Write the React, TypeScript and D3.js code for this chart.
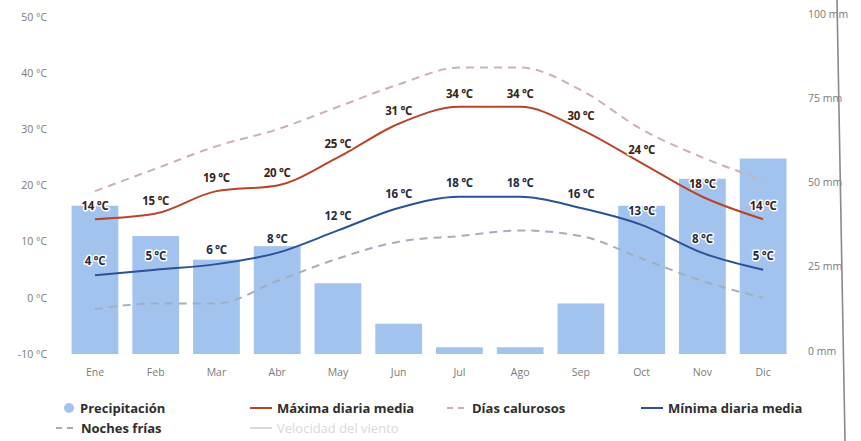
import React from "react";
import * as d3 from "d3";

// Monthly climate data
const months = ["Ene", "Feb", "Mar", "Abr", "May", "Jun", "Jul", "Ago", "Sep", "Oct", "Nov", "Dic"];
const precipitation = [44, 35, 28, 32, 21, 9, 2, 2, 15, 44, 52, 58]; // mm
const maxDaily = [14, 15, 19, 20, 25, 31, 34, 34, 30, 24, 18, 14]; // °C
const minDaily = [4, 5, 6, 8, 12, 16, 18, 18, 16, 13, 8, 5]; // °C
const hotDays = [19, 23, 27, 30, 34, 38, 41, 41, 37, 30, 25, 21]; // °C
const coldNights = [-2, -1, -1, 3, 7, 10, 11, 12, 11, 7, 3, 0]; // °C

const tempTicks = [-10, 0, 10, 20, 30, 40, 50];
const precTicks = [0, 25, 50, 75, 100];

const W = 861;
const H = 441;
const FONT = "'Open Sans', 'DejaVu Sans', sans-serif";

const C = {
  bar: "#a3c3ef",
  max: "#b9442a",
  min: "#2b5197",
  hot: "#ccb1ad",
  cold: "#a2aec0",
  tick: "#7a7a7a",
  legend: "#2e2e2e",
  hidden: "#d8d8d8",
};

export default function App() {
  const x = d3.scaleBand<string>().domain(months).range([64.6, 793.5]).paddingInner(0.23).paddingOuter(0.115);
  const yT = d3.scaleLinear().domain([-10, 50]).range([354, 17]);
  const yP = d3.scaleLinear().domain([0, 100]).range([354, 17]);
  const cx = (m: string) => (x(m) as number) + x.bandwidth() / 2;

  const line = (vals: number[]) =>
    d3
      .line<number>()
      .x((_, i) => cx(months[i]))
      .y((v) => yT(v))
      .curve(d3.curveMonotoneX)(vals) as string;

  const labelStyle = {
    fontFamily: FONT,
    fontSize: 11.5,
    fontWeight: 700,
    letterSpacing: -0.3,
    paintOrder: "stroke" as const,
    stroke: "#fff",
    strokeWidth: 3,
    strokeLinejoin: "round" as const,
  };

  const legendItems = [
    { name: "Precipitación", kind: "dot", color: C.bar, x: 64, y: 408, active: true },
    { name: "Máxima diaria media", kind: "line", color: C.max, x: 250, y: 408, active: true },
    { name: "Días calurosos", kind: "dash", color: C.hot, x: 447, y: 408, active: true },
    { name: "Mínima diaria media", kind: "line", color: C.min, x: 641, y: 408, active: true },
    { name: "Noches frías", kind: "dash", color: C.cold, x: 56, y: 428, active: true },
    { name: "Velocidad del viento", kind: "line", color: C.hidden, x: 250, y: 428, active: false },
  ];

  return (
    <svg width={W} height={H} style={{ position: "absolute", left: 0, top: 0, background: "#fff" }}>
      {/* precipitation bars */}
      {precipitation.map((v, i) => (
        <rect
          key={months[i]}
          x={x(months[i])}
          y={yP(v)}
          width={x.bandwidth()}
          height={yP(0) - yP(v)}
          fill={C.bar}
        />
      ))}

      {/* temperature series */}
      <path d={line(coldNights)} fill="none" stroke={C.cold} strokeWidth={2} strokeDasharray="8,6" />
      <path d={line(hotDays)} fill="none" stroke={C.hot} strokeWidth={2} strokeDasharray="8,6" />
      <path d={line(minDaily)} fill="none" stroke={C.min} strokeWidth={2} />
      <path d={line(maxDaily)} fill="none" stroke={C.max} strokeWidth={2} />

      {/* data labels */}
      {maxDaily.map((v, i) => (
        <text key={"mx" + i} x={cx(months[i])} y={yT(v) - 9} textAnchor="middle" fill="#3a2418" style={labelStyle}>
          {v} °C
        </text>
      ))}
      {minDaily.map((v, i) => (
        <text key={"mn" + i} x={cx(months[i])} y={yT(v) - 10} textAnchor="middle" fill="#1e2c46" style={labelStyle}>
          {v} °C
        </text>
      ))}

      {/* left temperature axis */}
      {tempTicks.map((t) => (
        <text key={"t" + t} x={47} y={yT(t)} dy="0.35em" textAnchor="end" fill={C.tick} fontFamily={FONT} fontSize={10.5}>
          {t} °C
        </text>
      ))}

      {/* right precipitation axis */}
      {precTicks.map((t) => (
        <text key={"p" + t} x={808} y={yP(t) - 3} dy="0.35em" textAnchor="start" fill={C.tick} fontFamily={FONT} fontSize={10.5}>
          {t} mm
        </text>
      ))}

      {/* month labels */}
      {months.map((m) => (
        <text key={"m" + m} x={cx(m)} y={372} dy="0.35em" textAnchor="middle" fill={C.tick} fontFamily={FONT} fontSize={10.5}>
          {m}
        </text>
      ))}

      {/* legend */}
      {legendItems.map((it) => (
        <g key={it.name} transform={`translate(${it.x},${it.y})`}>
          {it.kind === "dot" && <circle cx={5} cy={0} r={5} fill={it.color} />}
          {it.kind === "line" && <line x1={0} x2={22} y1={0} y2={0} stroke={it.color} strokeWidth={2} />}
          {it.kind === "dash" && (
            <line x1={0} x2={20} y1={0} y2={0} stroke={it.color} strokeWidth={2} strokeDasharray="6,5" />
          )}
          <text
            x={it.kind === "dot" ? 16 : it.kind === "dash" ? 25 : 27}
            y={0}
            dy="0.35em"
            fill={it.active ? C.legend : C.hidden}
            fontFamily={FONT}
            fontSize={13}
            fontWeight={it.active ? 700 : 400}
          >
            {it.name}
          </text>
        </g>
      ))}

      {/* page edge line */}
      <line x1={837} y1={0} x2={845} y2={H} stroke="#8a8a8a" strokeWidth={1.6} />
    </svg>
  );
}
